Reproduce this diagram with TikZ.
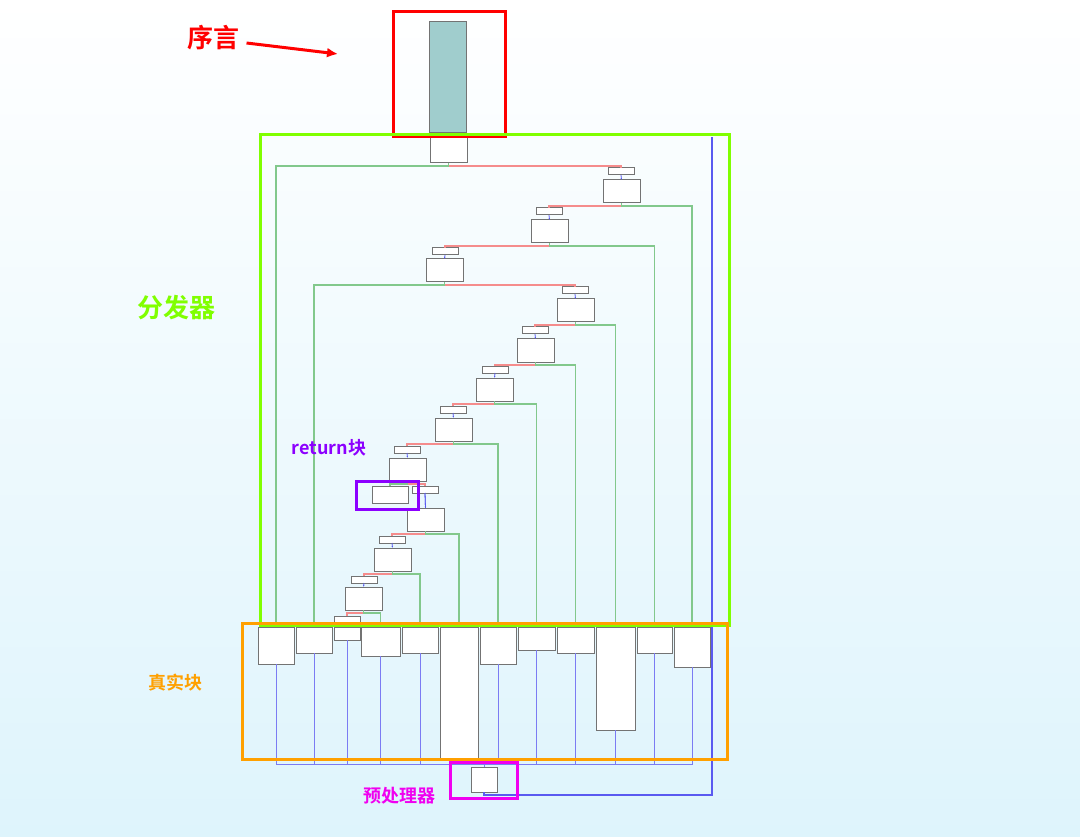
\documentclass[tikz,border=0pt]{standalone}
\usepackage{fontspec}
\newfontfamily\cjk{Noto Sans CJK SC}[BoldFont={Noto Sans CJK SC Bold}]
\usetikzlibrary{arrows.meta}
\definecolor{gline}{RGB}{130,200,140}
\definecolor{rline}{RGB}{245,140,140}
\definecolor{bline}{RGB}{90,90,240}
\definecolor{prolog}{RGB}{160,205,205}
\tikzset{
  blk/.style={draw=gray!90!black,fill=white,line width=1pt,inner sep=0pt,outer sep=0pt},
  gl/.style={gline,line width=1.1pt},
  rl/.style={rline,line width=1.1pt},
  bl/.style={bline!80,line width=.9pt},
  frame/.style={line width=3pt},
  lbl/.style={font=\cjk\bfseries\fontsize{26}{26}\selectfont},
  slbl/.style={font=\cjk\bfseries\fontsize{18}{18}\selectfont}
}
% block from its corners
\newcommand\blk[5]{%
  \pgfmathsetmacro{\bw}{#4-#2}\pgfmathsetmacro{\bh}{#5-#3}%
  \node[blk,minimum width=\bw pt,minimum height=\bh pt] (#1) at ({(#2+#4)/2},{(#3+#5)/2}) {};}
\begin{document}
\begin{tikzpicture}[x=1pt,y=-1pt]
  \shade[top color=white,bottom color={rgb,255:red,222;green,244;blue,252}] (0,0) rectangle (1080,837);
  \useasboundingbox (0,0) rectangle (1080,837);
  % prologue
  \node[blk,fill=prolog,minimum width=37pt,minimum height=111pt] (pro) at (447.5,77.5) {};
  \blk{d0}{430}{137}{467}{163}
  % dispatcher chain: name, small x1,y1, main x1,y1
  \foreach \n/\sx/\sy/\mx/\my in {1/608/168/603/180, 2/536/208/531/220, 3/432/248/426/259,
      4/562/287/557/299, 5/522/327/517/339, 6/482/366/476/378, 7/440/406/435/418,
      8/394/446/389/458, 9/412/486/407/508, 10/379/536/374/548, 11/351/576/345/587}{
    \blk{s\n}{\sx}{\sy}{\sx+26}{\sy+7}
    \blk{m\n}{\mx}{\my}{\mx+37}{\my+23}
    \draw[bline,line width=.8pt,-{Latex[length=2pt]}] (s\n.south) -- (m\n.north);
  }
  \blk{s12}{334}{616}{360}{623}
  \blk{ret}{372}{486}{408}{503}
  % real blocks
  \foreach \n/\xa/\xb/\yb in {1/258/294/664, 2/296/332/653, 3/334/360/640, 4/361/400/656,
      5/402/438/653, 6/440/478/758, 7/480/516/664, 8/518/555/650, 9/557/594/653,
      10/596/635/730, 11/637/672/653, 12/674/710/667}{
    \blk{r\n}{\xa}{627}{\xb}{\yb}
  }
  \blk{pre}{471}{767}{497}{792}
  % true / false edges
  \draw[rl] (d0.south) -- ++(0,3) -| (s1.north);
  \draw[gl] (d0.south) -- ++(0,3) -| (r1.north);
  \foreach \a/\b/\c in {1/2/12, 2/3/11, 4/5/10, 5/6/9, 6/7/8, 7/8/7, 9/10/6, 10/11/5, 11/12/4}{
    \draw[rl] (m\a.south) -- ++(0,3) -| (s\b.north);
    \draw[gl] (m\a.south) -- ++(0,3) -| (r\c.north);
  }
  \draw[rl] (m3.south) -- ++(0,3) -| (s4.north);
  \draw[gl] (m3.south) -- ++(0,3) -| (r2.north);
  \draw[rl] (m8.south) -- ++(0,3) -| (s9.north);
  \draw[gl] (m8.south) -- ++(0,3) -| (ret.north);
  \draw[bline,line width=.8pt] (s9.south) -- (m9.north);
  \draw[bline,line width=.8pt] (s12.south) -- (r3.north);
  % back to the preprocessor
  \coordinate (pin) at (484,764);
  \foreach \n in {1,...,12}{
    \draw[bl] (r\n.south) |- (pin) -- (pre.north);
  }
  \coordinate (loop) at (712,137);
  \draw[bline,line width=1.3pt] (pre.south) -- ++(0,3) -| (loop);
  % frames
  \draw[red,frame] (393,12) rectangle (505,137);
  \draw[frame,draw={rgb,255:red,128;green,255;blue,0}] (260,135) rectangle (729,625);
  \draw[frame,draw={rgb,255:red,255;green,160;blue,0}] (242,623) rectangle (727,759);
  \draw[frame,draw={rgb,255:red,140;green,0;blue,255}] (356,481) rectangle (418,509);
  \draw[frame,draw={rgb,255:red,240;green,0;blue,240}] (450,762) rectangle (517,798);
  % labels
  \node[lbl,red] (tpro) at (213,38) {序言};
  \coordinate (tip) at (338,54);
  \draw[red,line width=3pt,-{Latex[length=11pt,width=10pt]}] (tpro.east) ++(4,5) -- (tip);
  \node[lbl,text={rgb,255:red,128;green,255;blue,0}] (tdis) at (176,308) {分发器};
  \node[slbl,text={rgb,255:red,140;green,0;blue,255}] (tret) at (329,448) {return块};
  \node[slbl,text={rgb,255:red,255;green,160;blue,0}] (treal) at (175,683) {真实块};
  \node[slbl,text={rgb,255:red,240;green,0;blue,240}] (tpre) at (399,796) {预处理器};
\end{tikzpicture}
\end{document}
